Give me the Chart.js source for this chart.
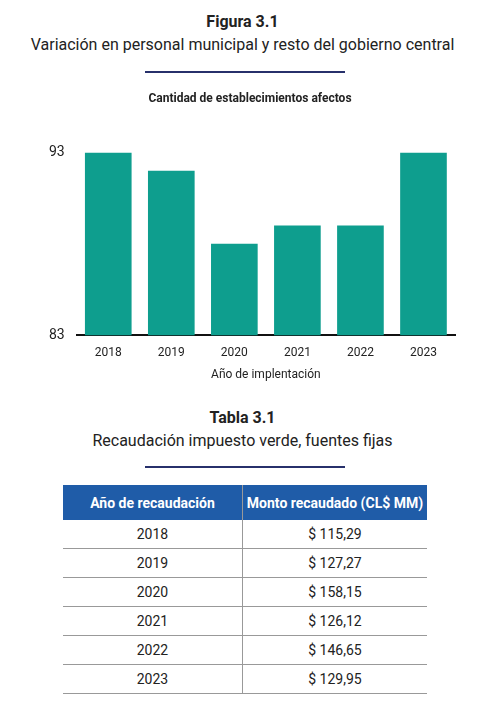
<!DOCTYPE html>
<html>
<head>
<meta charset="utf-8">
<script src="https://cdn.jsdelivr.net/npm/chart.js@4"></script>
<style>
body { margin:0; width:485px; height:702px; background:#fff; font-family:'Liberation Sans Narrow','Roboto',sans-serif; color:#222; position:relative; }
.h { position:absolute; left:0; width:485px; text-align:center; font-family:'Roboto',sans-serif; }
.rule { position:absolute; left:145px; width:200px; height:2px; background:#27306b; }
#wrap { position:absolute; left:0; top:86px; width:485px; height:300px; }
table { position:absolute; left:63px; top:485px; width:364px; border-collapse:collapse; font-family:'Liberation Sans Narrow','Roboto',sans-serif; font-size:14px; }
th { background:#1f5ca8; color:#fff; height:33px; font-weight:bold; font-size:14px; }
td { height:26px; text-align:center; border-bottom:1px solid #999; }
th:first-child, td:first-child { border-right:1px solid #999; width:177px; }
</style>
</head>
<body>
<div class="h" style="top:12px;font-weight:bold;font-size:16px;">Figura 3.1</div>
<div class="h" style="top:35px;font-size:16px;">Variación en personal municipal y resto del gobierno central</div>
<div class="rule" style="top:71px;"></div>
<div id="wrap"><canvas id="chart"></canvas></div>
<div class="h" style="top:408px;font-weight:bold;font-size:16px;">Tabla 3.1</div>
<div class="h" style="top:431px;font-size:16px;">Recaudación impuesto verde, fuentes fijas</div>
<div class="rule" style="top:466px;"></div>
<table id="tbl">
<thead><tr><th>Año de recaudación</th><th>Monto recaudado (CL$ MM)</th></tr></thead>
<tbody></tbody>
</table>
<script>
const years = ['2018', '2019', '2020', '2021', '2022', '2023'];
const establecimientos = [93, 92, 88, 89, 89, 93];
const y_ticks = [83, 93];
const recaudacion = ['$ 115,29', '$ 127,27', '$ 158,15', '$ 126,12', '$ 146,65', '$ 129,95'];

const tbody = document.querySelector('#tbl tbody');
years.forEach((y, i) => {
	let tr = document.createElement('tr');
	tr.innerHTML = `<td>${y}</td><td>${recaudacion[i]}</td>`;
	tbody.appendChild(tr);
});

const font_family = "'Liberation Sans Narrow','Roboto',sans-serif";
const ctx = document.getElementById('chart').getContext('2d');
new Chart(ctx, {
	type: 'bar',
	data: {
		labels: years,
		datasets: [{
			data: establecimientos,
			backgroundColor: '#0e9e8e',
			barPercentage: 0.74,
			categoryPercentage: 1
		}]
	},
	options: {
		responsive: true,
		maintainAspectRatio: false,
		animation: false,
		layout: { padding: { left: 45, right: 30, top: 0, bottom: 0 } },
		plugins: {
			legend: { display: false },
			tooltip: { enabled: false },
			title: {
				display: true,
				text: 'Cantidad de establecimientos afectos',
				color: '#222',
				font: { family: font_family, size: 12 },
				padding: { top: 6, bottom: 46 }
			}
		},
		scales: {
			x: {
				grid: { display: false },
				border: { color: '#111', width: 2 },
				ticks: { color: '#222', font: { family: font_family, size: 12 } },
				title: { display: true, text: 'Año de implentación', color: '#222', font: { family: font_family, size: 12 } }
			},
			y: {
				min: 83,
				max: 93,
				afterBuildTicks: (axis) => { axis.ticks = y_ticks.map(v => ({ value: v })); },
				grid: { display: false },
				border: { display: false },
				ticks: { color: '#222', padding: 4, font: { family: font_family, size: 14 } }
			}
		}
	}
});
</script>
</body>
</html>
